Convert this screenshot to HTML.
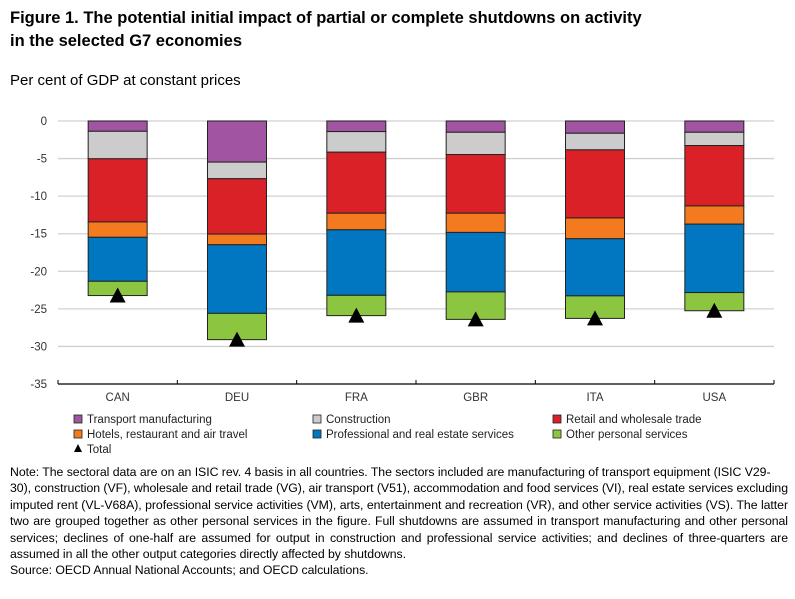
<!DOCTYPE html>
<html><head><meta charset="utf-8"><style>
body{margin:0;width:795px;height:599px;background:#fff;font-family:"Liberation Sans",Arial,sans-serif;color:#000;position:relative;overflow:hidden}
.t{position:absolute;left:10px;top:7px;font-weight:bold;font-size:16.5px;line-height:23px;color:#000}
.sub{position:absolute;left:10px;top:72px;font-size:15px}
.note{position:absolute;left:10px;top:464px;width:778px;font-size:12.3px;line-height:16.4px;text-align:justify;letter-spacing:-0.05px}
</style></head><body>
<div class="t">Figure 1. The potential initial impact of partial or complete shutdowns on activity<br>in the selected G7 economies</div>
<div class="sub">Per cent of GDP at constant prices</div>
<svg id="c" width="795" height="460" style="position:absolute;left:0;top:0"></svg>
<div class="note">Note: The sectoral data are on an ISIC rev. 4 basis in all countries. The sectors included are manufacturing of transport equipment (ISIC V29-<br>30), construction (VF), wholesale and retail trade (VG), air transport (V51), accommodation and food services (VI), real estate services excluding imputed rent (VL-V68A), professional service activities (VM), arts, entertainment and recreation (VR), and other service activities (VS). The latter two are grouped together as other personal services in the figure. Full shutdowns are assumed in transport manufacturing and other personal services; declines of one-half are assumed for output in construction and professional service activities; and declines of three-quarters are assumed in all the other output categories directly affected by shutdowns.<br>Source: OECD Annual National Accounts; and OECD calculations.</div>
<style>.note br:first-of-type{}</style>
<script>
const categories=["CAN","DEU","FRA","GBR","ITA","USA"];
const transport=[1.37,5.47,1.41,1.5,1.63,1.5];
const construction=[3.66,2.21,2.74,2.96,2.21,1.77];
const retail=[8.4,7.37,8.12,7.81,9.06,8.03];
const hotels=[2.05,1.42,2.21,2.56,2.77,2.43];
const professional=[5.85,9.13,8.72,7.91,7.6,9.1];
const personal=[1.9,3.5,2.7,3.66,3.0,2.42];
const yTicks=[0,-5,-10,-15,-20,-25,-30,-35];
const seriesNames=["Transport manufacturing","Construction","Retail and wholesale trade","Hotels, restaurant and air travel","Professional and real estate services","Other personal services"];
const seriesData=[transport,construction,retail,hotels,professional,personal];
const colors=["#a154a1","#cccccc","#da2128","#f47a20","#0077c0","#8cc641"];
const slugs=["transport","construction","retail","hotels","professional","personal"];
const svg=document.getElementById('c'),NS="http://www.w3.org/2000/svg";
const X0=58,X1=774,Y0=121,Y35=384;
const y=v=>Y0+(-v)*(Y35-Y0)/35;
const bw=(X1-X0)/categories.length;
const xc=i=>X0+bw*(i+0.5);
function mk(t,a,p){const e=document.createElementNS(NS,t);for(const k in a)e.setAttribute(k,a[k]);(p||svg).appendChild(e);return e;}
yTicks.forEach(v=>{
 if(v>-35){const g=mk('line',{x1:X0,x2:X1,y1:y(v),y2:y(v),stroke:'#d0d0d0','stroke-width':1.3});
 
 }
 const t=mk('text',{x:47,y:y(v)+4,'text-anchor':'end','font-size':11.5,fill:'#333'});t.textContent=v;
 
 
});
const ax=mk('line',{x1:X0,x2:X1,y1:Y35,y2:Y35,stroke:'#000','stroke-width':1.2});


for(let i=0;i<=categories.length;i++){const tk=mk('line',{x1:X0+bw*i,x2:X0+bw*i,y1:Y35-4,y2:Y35,stroke:'#000'});

}
categories.forEach((c,i)=>{
 let cum=0;
 seriesData.forEach((s,k)=>{
  const r=mk('rect',{x:xc(i)-29.5,y:y(-cum),width:59,height:y(-(cum+s[i]))-y(-cum),fill:colors[k],stroke:'#222','stroke-width':1});
  
  
  cum+=s[i];
 });
 const ty=y(-cum);
 const tri=mk('polygon',{points:`${xc(i)},${ty-8} ${xc(i)-8},${ty+7} ${xc(i)+8},${ty+7}`,fill:'#000'});
 
 
 const t=mk('text',{x:xc(i),y:401,'text-anchor':'middle','font-size':11.5,fill:'#333'});t.textContent=c;
 
 
});
const lx=[75,314,554],ly=[419,434];
seriesNames.forEach((n,k)=>{
 const g=mk('g',{});
 
 
 const cx=lx[k%3],cy=ly[Math.floor(k/3)];
 mk('rect',{x:cx-1,y:cy-4,width:8,height:8,fill:colors[k],stroke:'#222','stroke-width':0.8},g);
 const t=mk('text',{x:cx+12,y:cy+4,'font-size':11.5,fill:'#222'},g);t.textContent=n;
});
const g=mk('g',{});


mk('polygon',{points:`78,444 74,452 82,452`,fill:'#000'},g);
const tt=mk('text',{x:87,y:453,'font-size':11.5,fill:'#222'},g);tt.textContent='Total';
</script>
</body></html>
